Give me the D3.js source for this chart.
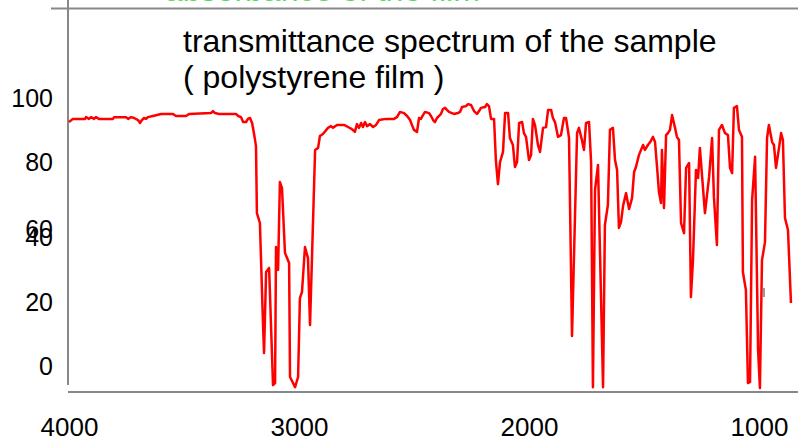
<!DOCTYPE html>
<html>
<head>
<meta charset="utf-8">
<script src="https://cdn.jsdelivr.net/npm/d3@7"></script>
<style>
  body { margin: 0; background: #fff; }
  svg { display: block; font-family: "Liberation Sans", Arial, sans-serif; }
</style>
</head>
<body>
<svg id="svg0" width="798" height="441"></svg>
<script>
// spectrum data (wavenumber, transmittance %)
var wavenumber = [4000,3983,3930,3926,3913,3904,3891,3883,3870,3809,3804,3752,3743,3730,3717,3700,3691,3683,3674,3665,3657,3635,3600,3548,3535,3491,3478,3383,3374,3365,3348,3274,3265,3252,3243,3230,3222,3213,3204,3196,3187,3183,3170,3157,3152,3143,3130,3113,3104,3100,3091,3083,3074,3061,3043,3039,3017,3004,2996,2987,2974,2961,2952,2930,2917,2909,2896,2874,2861,2852,2835,2804,2787,2770,2757,2748,2739,2730,2722,2713,2704,2691,2678,2665,2652,2622,2587,2574,2561,2543,2530,2517,2509,2500,2487,2478,2470,2461,2452,2435,2426,2417,2409,2400,2391,2383,2374,2365,2357,2348,2335,2326,2309,2300,2291,2274,2265,2252,2239,2226,2217,2209,2191,2183,2174,2165,2152,2144,2135,2126,2113,2104,2091,2083,2070,2061,2052,2043,2030,2022,2013,2000,1991,1983,1974,1961,1952,1939,1926,1917,1904,1896,1887,1874,1861,1848,1839,1826,1813,1791,1783,1770,1761,1752,1739,1730,1722,1713,1700,1678,1670,1657,1648,1635,1626,1617,1609,1600,1591,1578,1565,1552,1543,1535,1522,1513,1504,1496,1483,1470,1461,1452,1443,1435,1426,1422,1413,1404,1396,1387,1378,1365,1357,1348,1339,1326,1317,1304,1296,1287,1274,1265,1257,1235,1217,1204,1196,1183,1174,1161,1148,1135,1126,1117,1109,1096,1087,1074,1070,1057,1048,1039,1030,1017,1004,996,987,974,965,957,943,935,926,913,904,896,887,874,861];
var transmittance = [91.7,92.8,92.8,93.4,92.8,93.4,92.8,93.4,92.8,92.8,93.4,93.4,92.8,93.4,93.1,92.4,91.4,92.4,93.1,92.8,93.4,93.8,94.5,94.5,93.8,93.8,94.5,94.8,95.5,94.8,94.5,94.5,93.8,93.4,91.7,91.7,92.8,93.1,91.4,87.9,83.4,60.3,56.9,23.4,12.1,40.0,41.4,1.0,1.7,48.6,40.7,71.0,69.0,46.6,43.1,3.8,0.3,3.8,31.0,33.1,48.6,44.8,21.7,82.1,82.8,86.9,87.6,89.7,90.3,89.7,90.7,90.7,90.0,89.3,88.3,91.0,89.7,91.4,90.0,91.7,90.3,91.0,90.0,90.7,92.4,92.8,92.8,93.4,95.2,94.8,93.8,92.4,90.7,89.0,88.3,93.1,92.8,94.1,95.2,94.8,93.8,92.4,91.7,93.1,93.8,94.5,96.2,96.6,95.9,95.2,94.8,94.5,94.8,95.2,96.9,97.2,97.9,97.6,95.5,94.5,95.5,96.6,96.9,97.9,97.2,92.8,92.8,78.6,70.3,77.9,81.4,94.8,94.8,86.2,83.8,76.2,77.9,91.4,91.7,87.9,86.6,78.6,80.3,92.8,90.7,83.8,81.4,89.7,90.0,95.9,95.9,93.1,91.7,86.6,87.2,93.1,93.1,86.2,17.9,87.9,89.7,85.5,82.1,91.4,91.7,77.9,0.3,68.3,76.9,0.3,56.2,63.1,89.0,89.7,78.6,75.2,55.2,57.2,62.8,67.2,61.7,65.5,74.5,76.2,80.3,82.1,83.8,82.1,83.8,85.2,86.6,84.8,75.9,67.6,63.8,82.1,62.1,87.2,87.9,89.0,94.1,89.7,86.6,85.5,56.9,53.4,75.9,77.6,31.4,44.1,75.2,72.4,82.8,60.3,72.8,86.2,65.9,49.3,89.0,90.7,87.9,87.2,75.9,74.1,96.6,97.2,89.0,86.6,40.0,33.8,1.7,2.1,64.8,79.7,13.1,0,44.1,50.3,86.2,90.7,84.8,83.8,75.9,82.8,87.9,85.5,58.6,54.5,29.3];

var xTicks = [4000, 3000, 2000, 1000];
var yTicks = [0, 20, 40, 60, 80, 100];
var titleLines = ["transmittance spectrum of the sample", "( polystyrene film )"];

var svg = d3.select('#svg0');
var axisColor = "#888";

var x = d3.scaleLinear().domain([4000, 1000]).range([69, 759]);
var yLine = d3.scaleLinear().domain([0, 100]).range([388, 98]);
// tick labels sit where the original put them (60 and 40 nearly overlap)
var yTick = d3.scaleLinear().domain(yTicks).range([366, 302, 237, 229, 162, 98]);

// cut-off green text of the panel above
svg.append("text")
    .attr("x", 165)
    .attr("y", 0.5)
    .attr("fill", "#5d5")
    .style("font-size", "32px")
    .text("absorbance of the film");

// frame lines
svg.append("line").attr("x1", 51).attr("x2", 798).attr("y1", 8.5).attr("y2", 8.5)
    .attr("stroke", axisColor).attr("stroke-width", 2);
svg.append("line").attr("x1", 68).attr("x2", 68).attr("y1", 0).attr("y2", 385)
    .attr("stroke", axisColor).attr("stroke-width", 2);
svg.append("line").attr("x1", 68).attr("x2", 798).attr("y1", 392).attr("y2", 392)
    .attr("stroke", axisColor).attr("stroke-width", 2);

// title
svg.selectAll(".title")
    .data(titleLines)
    .enter()
    .append("text")
    .attr("class", "title")
    .attr("x", 183)
    .attr("y", function (d, i) { return 52 + i * 36; })
    .attr("fill", "#000")
    .style("font-size", "32px")
    .text(function (d) { return d; });

// y axis labels
var gy = svg.append("g")
    .attr("transform", "translate(56,0)")
    .call(d3.axisLeft(yTick).tickValues(yTicks).tickSize(0).tickPadding(3).tickFormat(d3.format("d")));
gy.select(".domain").remove();
gy.selectAll("text").attr("fill", "#000").style("font-size", "25px").style("font-family", "'Liberation Sans', Arial, sans-serif");

// x axis labels
var gx = svg.append("g")
    .attr("transform", "translate(0,415)")
    .call(d3.axisBottom(x).tickValues(xTicks).tickSize(0).tickPadding(3).tickFormat(d3.format("d")));
gx.select(".domain").remove();
gx.selectAll("text").attr("fill", "#000").style("font-size", "26px").style("font-family", "'Liberation Sans', Arial, sans-serif");

// small gray stub
svg.append("rect").attr("x", 763).attr("y", 288).attr("width", 2).attr("height", 9).attr("fill", "#999");

// spectrum
var pts = wavenumber.map(function (w, i) { return [w, transmittance[i]]; });
var line = d3.line()
    .x(function (d) { return x(d[0]); })
    .y(function (d) { return yLine(d[1]); });

svg.append("path")
    .datum(pts)
    .attr("d", line)
    .attr("fill", "none")
    .attr("stroke", "red")
    .attr("stroke-width", 2.5)
    .attr("stroke-linejoin", "round");
</script>
</body>
</html>
